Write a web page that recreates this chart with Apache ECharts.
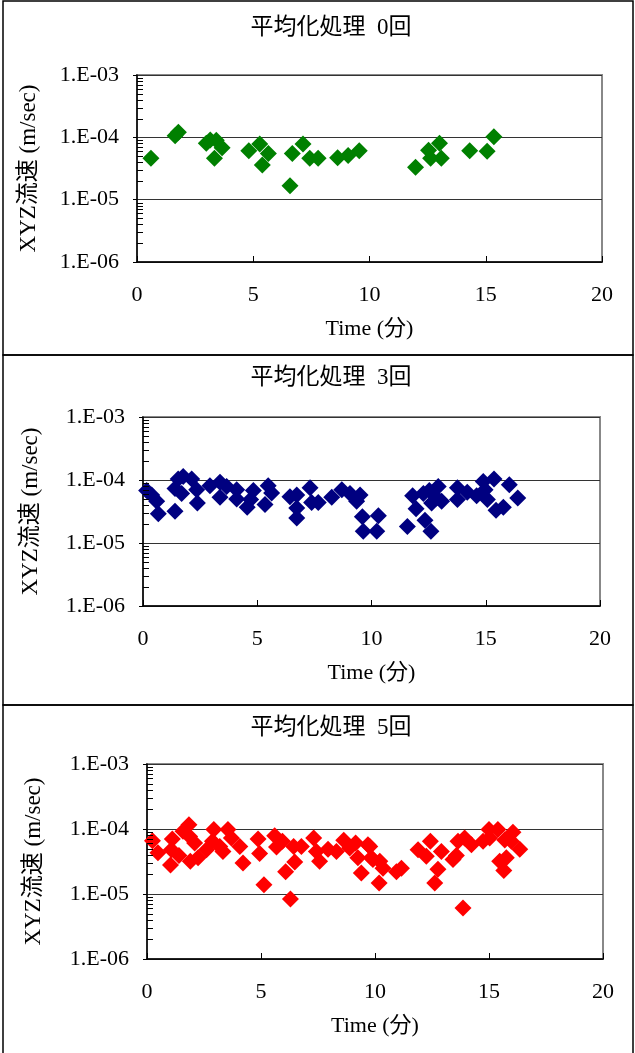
<!DOCTYPE html>
<html>
<head>
<meta charset="utf-8">
<script src="https://cdn.jsdelivr.net/npm/echarts@6/dist/echarts.min.js"></script>
<style>
  html, body { margin: 0; padding: 0; background: #fff; }
  #main { width: 635px; height: 1053px; }
</style>
</head>
<body>
<div id="main"></div>
<script>
// 平均化処理 0回
var time0 = [0.60, 1.64, 1.78, 2.98, 3.15, 3.41, 3.66, 3.33, 4.81, 5.28, 5.65, 5.39, 6.68, 7.14,
  6.58, 7.43, 7.79, 8.63, 9.08, 9.56, 11.98, 12.54, 12.63, 13.01, 13.09, 14.31, 15.06, 15.35];
var speed0 = [4.6e-5, 1.06e-4, 1.21e-4, 8.0e-5, 9.1e-5, 9.0e-5, 6.8e-5, 4.6e-5, 6.1e-5, 7.8e-5, 5.5e-5, 3.6e-5, 5.5e-5, 7.8e-5,
  1.67e-5, 4.6e-5, 4.6e-5, 4.7e-5, 5.1e-5, 6.1e-5, 3.3e-5, 6.2e-5, 4.6e-5, 8.0e-5, 4.6e-5, 6.1e-5, 6.0e-5, 1.02e-4];

// 平均化処理 3回
var time3 = [0.16, 0.38, 0.60, 0.67, 1.40, 1.40, 1.54, 1.76, 1.69, 2.13, 2.35, 2.38, 2.93, 3.37, 3.37, 3.66,
  4.10, 4.10, 4.56, 4.83, 4.71, 5.34, 5.48, 5.63, 6.43, 6.73, 6.73, 6.73, 7.31, 7.38, 7.67, 8.26,
  8.70, 9.06, 9.35, 9.50, 9.60, 9.64, 10.30, 10.23, 11.57, 11.80, 11.95, 12.34, 12.60, 12.27, 12.53,
  12.63, 12.92, 13.07, 12.85, 13.76, 13.76, 14.19, 14.60, 14.89, 14.97, 15.07, 15.36, 15.45, 15.77, 16.03, 16.40];
var speed3 = [6.8e-5, 5.8e-5, 4.6e-5, 2.9e-5, 3.2e-5, 7.3e-5, 1.04e-4, 1.14e-4, 6.1e-5, 1.04e-4, 7.0e-5, 4.3e-5, 8.1e-5, 9.2e-5, 5.3e-5, 7.9e-5,
  7.0e-5, 5.0e-5, 3.7e-5, 6.8e-5, 4.9e-5, 4.1e-5, 8.1e-5, 6.2e-5, 5.4e-5, 5.8e-5, 3.6e-5, 2.5e-5, 7.5e-5, 4.4e-5, 4.4e-5, 5.3e-5,
  7.0e-5, 6.1e-5, 4.6e-5, 5.8e-5, 2.6e-5, 1.53e-5, 2.7e-5, 1.53e-5, 1.83e-5, 5.6e-5, 3.5e-5, 2.3e-5, 1.53e-5, 6.1e-5, 6.8e-5,
  4.3e-5, 7.9e-5, 4.6e-5, 5.2e-5, 7.5e-5, 4.9e-5, 6.4e-5, 5.6e-5, 9.5e-5, 7.0e-5, 4.9e-5, 1.04e-4, 3.3e-5, 3.7e-5, 8.4e-5, 5.2e-5];

// 平均化処理 5回
var time5 = [0.24, 0.48, 1.03, 1.11, 1.07, 1.40, 1.58, 1.84, 1.87, 2.09, 1.90, 2.24, 2.61, 2.93, 2.87, 3.19,
  3.33, 3.55, 3.70, 4.07, 4.21, 4.87, 4.94, 5.13, 5.60, 5.68, 5.94, 6.08, 6.29, 6.48, 6.43, 6.77,
  7.31, 7.43, 7.57, 7.94, 8.31, 8.63, 8.89, 9.15, 9.25, 9.40, 9.69, 9.84, 10.18, 9.91, 10.21, 10.35,
  9.77, 10.94, 11.16, 11.89, 12.43, 12.25, 12.91, 12.76, 12.62, 13.42, 13.57, 13.64, 13.93, 14.23,
  13.86, 14.74, 15.00, 15.39, 15.03, 15.69, 16.05, 16.35, 15.76, 15.47, 15.65, 15.98];
var speed5 = [6.6e-5, 4.3e-5, 2.8e-5, 7.0e-5, 4.8e-5, 3.9e-5, 9.2e-5, 1.16e-4, 7.7e-5, 6.1e-5, 3.2e-5, 3.6e-5, 4.8e-5, 9.8e-5, 6.5e-5, 5.4e-5,
  4.5e-5, 9.8e-5, 7.3e-5, 5.4e-5, 3.0e-5, 7.0e-5, 4.2e-5, 1.39e-5, 7.9e-5, 5.3e-5, 6.5e-5, 2.2e-5, 8.4e-6, 3.1e-5, 5.4e-5, 5.4e-5,
  7.3e-5, 4.5e-5, 3.2e-5, 4.9e-5, 4.5e-5, 6.7e-5, 5.1e-5, 6.1e-5, 3.6e-5, 2.1e-5, 5.7e-5, 3.6e-5, 1.48e-5, 3.4e-5, 3.2e-5, 2.5e-5,
  5.4e-5, 2.2e-5, 2.5e-5, 4.8e-5, 6.5e-5, 3.8e-5, 4.5e-5, 2.4e-5, 1.48e-5, 3.4e-5, 3.9e-5, 6.5e-5, 7.3e-5, 5.7e-5,
  6.1e-6, 6.5e-5, 9.8e-5, 9.8e-5, 7.3e-5, 6.8e-5, 8.9e-5, 4.9e-5, 3.6e-5, 3.2e-5, 2.3e-5, 6.5e-5];

var titles = ['平均化処理  0回', '平均化処理  3回', '平均化処理  5回'];
var colors = ['#008000', '#000080', '#ff0000'];
var xTicks = [0, 5, 10, 15, 20];
var decades = [1e-6, 1e-5, 1e-4];
var minorSteps = [2, 3, 4, 5, 6, 7, 8, 9];

var font = '"Liberation Serif", "Times New Roman", "Noto Sans CJK JP", serif';

var chart = echarts.init(document.getElementById('main'), null, { renderer: 'canvas' });

var grids = [
  { left: 137, top: 75, width: 465, height: 187, titleY: 28, nameX: 28 },
  { left: 143, top: 417, width: 457, height: 189, titleY: 378, nameX: 30 },
  { left: 147, top: 764, width: 456, height: 195, titleY: 728, nameX: 33 }
];
var panels = [
  { time: time0, speed: speed0 },
  { time: time3, speed: speed3 },
  { time: time5, speed: speed5 }
];

var option = {
  animation: false,
  backgroundColor: '#fff',
  textStyle: { fontFamily: font },
  grid: [],
  xAxis: [],
  yAxis: [],
  series: [],
  graphic: []
};

grids.forEach(function (g, i) {
  option.grid.push({
    left: g.left, top: g.top, width: g.width, height: g.height,
    show: true, borderColor: '#888', borderWidth: 2, backgroundColor: 'transparent'
  });
  option.xAxis.push({
    gridIndex: i,
    type: 'value',
    min: xTicks[0], max: xTicks[xTicks.length - 1], interval: 5,
    name: 'Time (分)',
    nameLocation: 'middle',
    nameGap: 56,
    nameTextStyle: { fontFamily: font, fontSize: 22, color: '#000' },
    axisLine: { lineStyle: { color: '#000', width: 1.5 } },
    axisTick: { inside: true, length: 6, lineStyle: { color: '#000' } },
    axisLabel: { fontFamily: font, fontSize: 22, color: '#000', margin: 22 },
    splitLine: { show: false }
  });
  option.yAxis.push({
    gridIndex: i,
    type: 'log',
    logBase: 10,
    min: 1e-6, max: 1e-3,
    name: 'XYZ流速 (m/sec)',
    nameLocation: 'middle',
    nameGap: g.left - g.nameX - 12,
    nameTextStyle: { fontFamily: font, fontSize: 23, color: '#000' },
    axisLine: { lineStyle: { color: '#000', width: 1.5 } },
    axisTick: { inside: false, length: 4, lineStyle: { color: '#000' } },
    axisLabel: {
      fontFamily: font, fontSize: 22, color: '#000', margin: 18,
      formatter: function (v) {
        var e = Math.round(Math.log10(v));
        return '1.E-' + (e < 0 ? ('0' + (-e)).slice(-2) : e);
      }
    },
    splitLine: { show: true, lineStyle: { color: '#333', width: 1 } }
  });
  option.series.push({
    type: 'scatter',
    xAxisIndex: i, yAxisIndex: i,
    symbol: 'diamond',
    symbolSize: 17,
    itemStyle: { color: colors[i], opacity: 1 },
    data: panels[i].time.map(function (t, k) { return [t, panels[i].speed[k]]; }),
    z: 3
  });
  option.graphic.push({
    type: 'text',
    x: 331, y: g.titleY,
    style: {
      text: titles[i],
      fill: '#000',
      font: '23px ' + font,
      textAlign: 'center',
      textVerticalAlign: 'middle'
    }
  });
});

// panel frames
option.graphic.push(
  { type: 'rect', shape: { x: 3, y: 1, width: 630, height: 354 }, style: { fill: 'none', stroke: '#000', lineWidth: 1.5 }, silent: true },
  { type: 'rect', shape: { x: 3, y: 355, width: 630, height: 350 }, style: { fill: 'none', stroke: '#000', lineWidth: 1.5 }, silent: true },
  { type: 'rect', shape: { x: 3, y: 705, width: 630, height: 350 }, style: { fill: 'none', stroke: '#000', lineWidth: 1.5 }, silent: true }
);

chart.setOption(option);

// log minor ticks (2..9 in each decade), positioned through each grid's own scale
var tickLines = [];
grids.forEach(function (g, i) {
  decades.forEach(function (d) {
    minorSteps.forEach(function (m) {
      var p = chart.convertToPixel({ gridIndex: i }, [0, m * d]);
      if (!p || isNaN(p[1])) return;
      var yy = Math.round(p[1]) + 0.5;
      tickLines.push({
        type: 'line',
        silent: true,
        z: 10,
        shape: { x1: p[0], y1: yy, x2: p[0] + 6, y2: yy },
        style: { stroke: '#000', lineWidth: 1 }
      });
    });
  });
});
chart.setOption({ graphic: option.graphic.concat(tickLines) });
</script>
</body>
</html>
